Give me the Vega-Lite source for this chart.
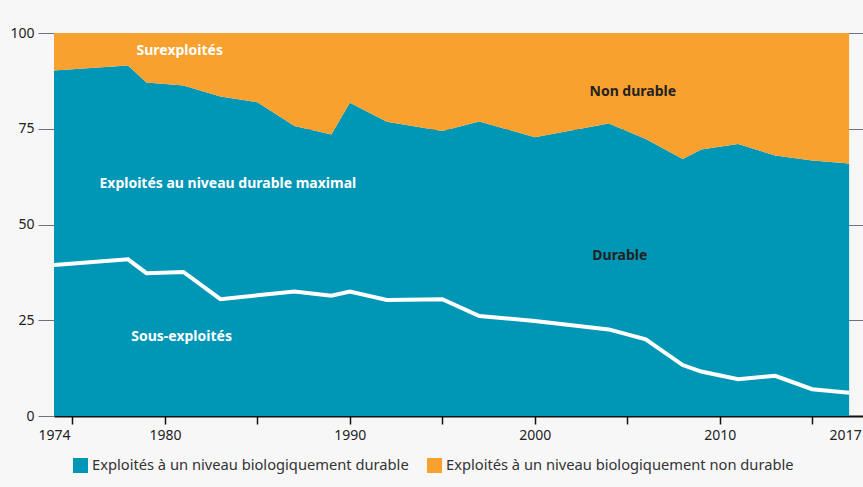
{
  "$schema": "https://vega.github.io/schema/vega-lite/v6.json",
  "autosize": {"type": "none"},
  "padding": {"left": 54, "right": 0, "top": 33, "bottom": 71},
  "width": 809,
  "height": 383,
  "background": "#f7f7f7",
  "config": {
    "view": {"stroke": null},
    "font": "Noto Sans",
    "axis": {"labelFont": "Noto Sans", "labelColor": "#222222", "labelFontSize": 14}
  },
  "datasets": {
    "share": [
      {"year": 1974, "cat": "Exploités à un niveau biologiquement durable", "v": 90.2},
      {"year": 1978, "cat": "Exploités à un niveau biologiquement durable", "v": 91.5},
      {"year": 1979, "cat": "Exploités à un niveau biologiquement durable", "v": 87.1},
      {"year": 1981, "cat": "Exploités à un niveau biologiquement durable", "v": 86.3},
      {"year": 1983, "cat": "Exploités à un niveau biologiquement durable", "v": 83.4},
      {"year": 1985, "cat": "Exploités à un niveau biologiquement durable", "v": 81.9},
      {"year": 1987, "cat": "Exploités à un niveau biologiquement durable", "v": 75.7},
      {"year": 1989, "cat": "Exploités à un niveau biologiquement durable", "v": 73.5},
      {"year": 1990, "cat": "Exploités à un niveau biologiquement durable", "v": 81.8},
      {"year": 1992, "cat": "Exploités à un niveau biologiquement durable", "v": 76.8},
      {"year": 1995, "cat": "Exploités à un niveau biologiquement durable", "v": 74.4},
      {"year": 1997, "cat": "Exploités à un niveau biologiquement durable", "v": 76.9},
      {"year": 2000, "cat": "Exploités à un niveau biologiquement durable", "v": 72.8},
      {"year": 2004, "cat": "Exploités à un niveau biologiquement durable", "v": 76.4},
      {"year": 2006, "cat": "Exploités à un niveau biologiquement durable", "v": 72.3},
      {"year": 2008, "cat": "Exploités à un niveau biologiquement durable", "v": 67.1},
      {"year": 2009, "cat": "Exploités à un niveau biologiquement durable", "v": 69.6},
      {"year": 2011, "cat": "Exploités à un niveau biologiquement durable", "v": 71.0},
      {"year": 2013, "cat": "Exploités à un niveau biologiquement durable", "v": 68.0},
      {"year": 2015, "cat": "Exploités à un niveau biologiquement durable", "v": 66.7},
      {"year": 2017, "cat": "Exploités à un niveau biologiquement durable", "v": 65.9},
      {"year": 1974, "cat": "Exploités à un niveau biologiquement non durable", "v": 9.8},
      {"year": 1978, "cat": "Exploités à un niveau biologiquement non durable", "v": 8.5},
      {"year": 1979, "cat": "Exploités à un niveau biologiquement non durable", "v": 12.9},
      {"year": 1981, "cat": "Exploités à un niveau biologiquement non durable", "v": 13.7},
      {"year": 1983, "cat": "Exploités à un niveau biologiquement non durable", "v": 16.6},
      {"year": 1985, "cat": "Exploités à un niveau biologiquement non durable", "v": 18.1},
      {"year": 1987, "cat": "Exploités à un niveau biologiquement non durable", "v": 24.3},
      {"year": 1989, "cat": "Exploités à un niveau biologiquement non durable", "v": 26.5},
      {"year": 1990, "cat": "Exploités à un niveau biologiquement non durable", "v": 18.2},
      {"year": 1992, "cat": "Exploités à un niveau biologiquement non durable", "v": 23.2},
      {"year": 1995, "cat": "Exploités à un niveau biologiquement non durable", "v": 25.6},
      {"year": 1997, "cat": "Exploités à un niveau biologiquement non durable", "v": 23.1},
      {"year": 2000, "cat": "Exploités à un niveau biologiquement non durable", "v": 27.2},
      {"year": 2004, "cat": "Exploités à un niveau biologiquement non durable", "v": 23.6},
      {"year": 2006, "cat": "Exploités à un niveau biologiquement non durable", "v": 27.7},
      {"year": 2008, "cat": "Exploités à un niveau biologiquement non durable", "v": 32.9},
      {"year": 2009, "cat": "Exploités à un niveau biologiquement non durable", "v": 30.4},
      {"year": 2011, "cat": "Exploités à un niveau biologiquement non durable", "v": 29.0},
      {"year": 2013, "cat": "Exploités à un niveau biologiquement non durable", "v": 32.0},
      {"year": 2015, "cat": "Exploités à un niveau biologiquement non durable", "v": 33.3},
      {"year": 2017, "cat": "Exploités à un niveau biologiquement non durable", "v": 34.1}
    ],
    "sous": [
      {"year": 1974, "v": 39.4},
      {"year": 1978, "v": 40.9},
      {"year": 1979, "v": 37.3},
      {"year": 1981, "v": 37.6},
      {"year": 1983, "v": 30.5},
      {"year": 1985, "v": 31.5},
      {"year": 1987, "v": 32.5},
      {"year": 1989, "v": 31.4},
      {"year": 1990, "v": 32.5},
      {"year": 1992, "v": 30.3},
      {"year": 1995, "v": 30.5},
      {"year": 1997, "v": 26.1},
      {"year": 2000, "v": 24.8},
      {"year": 2004, "v": 22.6},
      {"year": 2006, "v": 20.0},
      {"year": 2008, "v": 13.3},
      {"year": 2009, "v": 11.6},
      {"year": 2011, "v": 9.6},
      {"year": 2013, "v": 10.5},
      {"year": 2015, "v": 7.0},
      {"year": 2017, "v": 6.1}
    ],
    "labels": [
      {"year": 1980.8, "v": 95.3, "t": "Surexploités", "k": "light"},
      {"year": 1983.4, "v": 60.6, "t": "Exploités au niveau durable maximal", "k": "light"},
      {"year": 1980.9, "v": 20.6, "t": "Sous-exploités", "k": "light"},
      {"year": 2005.3, "v": 84.6, "t": "Non durable", "k": "dark"},
      {"year": 2004.6, "v": 41.8, "t": "Durable", "k": "dark"}
    ]
  },
  "layer": [
    {
      "data": {"name": "share"},
      "mark": {"type": "area", "interpolate": "linear"},
      "encoding": {
        "x": {
          "field": "year", "type": "quantitative",
          "scale": {"domain": [1974, 2017.75], "nice": false, "zero": false},
          "axis": {
            "values": [1974, 1975, 1980, 1985, 1990, 1995, 2000, 2005, 2010, 2015, 2017],
            "labelExpr": "indexof([1974,1980,1990,2000,2010,2017], datum.value) >= 0 ? format(datum.value, 'd') : ''",
            "labelOverlap": false, "labelFlush": false, "labelPadding": 4,
            "labelOffset": {"condition": {"test": "datum.value == 2017", "value": -4}, "value": 0},
            "grid": false, "title": null,
            "domainColor": "#111111", "domainWidth": 2,
            "tickColor": "#111111", "tickSize": 8, "tickWidth": 1.5,
            "tickOpacity": {"condition": {"test": "datum.value == 1974 || datum.value == 2017", "value": 0}, "value": 1}
          }
        },
        "y": {
          "field": "v", "type": "quantitative", "stack": "zero",
          "scale": {"domain": [0, 100], "nice": false},
          "axis": {
            "values": [0, 25, 50, 75, 100], "title": null, "domain": false,
            "grid": true, "gridColor": "#6e737b", "gridWidth": 1,
            "tickColor": "#6e737b", "tickSize": 16, "labelPadding": 4
          }
        },
        "color": {
          "field": "cat", "type": "nominal",
          "scale": {
            "domain": ["Exploités à un niveau biologiquement durable", "Exploités à un niveau biologiquement non durable"],
            "range": ["#0096b6", "#f8a12e"]
          },
          "legend": {
            "orient": "none", "legendX": 19, "legendY": 425, "direction": "horizontal",
            "title": null, "symbolType": "square", "symbolSize": 225,
            "symbolStrokeWidth": 0, "symbolOpacity": 1,
            "labelFontSize": 14.7, "labelColor": "#333333", "labelFont": "Noto Sans",
            "columnPadding": 18, "labelLimit": 400, "padding": 0
          }
        },
        "order": {"field": "cat", "sort": "ascending"}
      }
    },
    {
      "data": {"name": "sous"},
      "mark": {"type": "line", "color": "white", "strokeWidth": 4, "strokeJoin": "miter"},
      "encoding": {
        "x": {"field": "year", "type": "quantitative"},
        "y": {"field": "v", "type": "quantitative"}
      }
    },
    {
      "data": {"name": "labels"},
      "mark": {"type": "text", "fontSize": 14, "fontWeight": "bold", "font": "Noto Sans"},
      "encoding": {
        "x": {"field": "year", "type": "quantitative"},
        "y": {"field": "v", "type": "quantitative"},
        "text": {"field": "t"},
        "color": {
          "field": "k", "type": "nominal",
          "scale": {"domain": ["light", "dark"], "range": ["#ffffff", "#222222"]},
          "legend": null
        }
      }
    }
  ],
  "resolve": {"scale": {"color": "independent"}}
}
